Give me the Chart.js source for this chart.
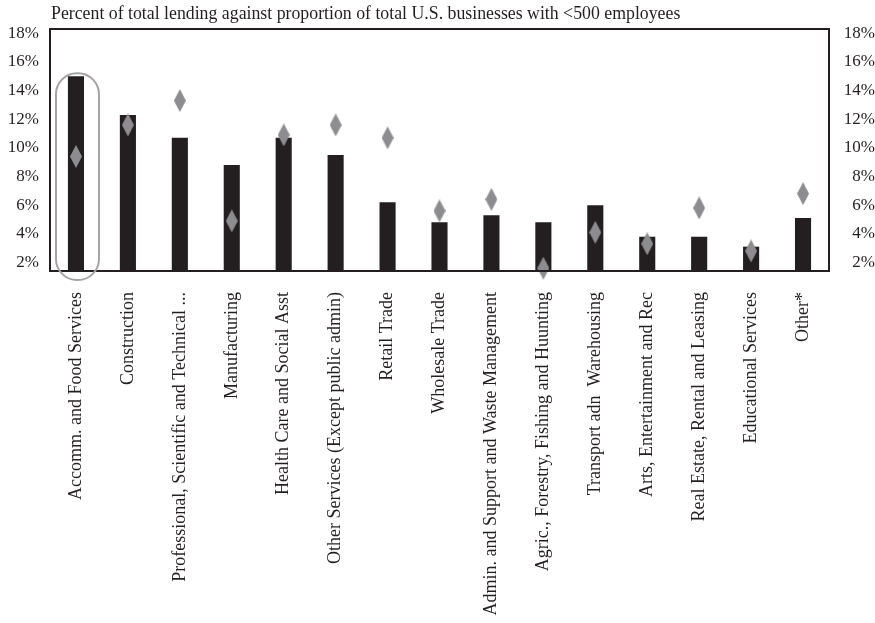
<!DOCTYPE html>
<html>
<head>
<meta charset="utf-8">
<script src="https://cdn.jsdelivr.net/npm/chart.js@4"></script>
<style>
  body { margin: 0; background: #fff; }
</style>
</head>
<body>
<canvas id="grafico" width="875" height="623"></canvas>
<script>
const categorias = [
  "Accomm. and Food Services",
  "Construction",
  "Professional, Scientific and Technical ...",
  "Manufacturing",
  "Health Care and Social Asst",
  "Other Services (Except public admin)",
  "Retail Trade",
  "Wholesale Trade",
  "Admin. and Support and Waste Management",
  "Agric., Forestry, Fishing and Huunting",
  "Transport adn  Warehousing",
  "Arts, Entertainment and Rec",
  "Real Estate, Rental and Leasing",
  "Educational Services",
  "Other*"
]
// % of total lending (bars)
const emprestimos = [15.0, 12.3, 10.7, 8.8, 10.7, 9.5, 6.2, 4.8, 5.3, 4.8, 6.0, 3.8, 3.8, 3.1, 5.1]
// % of total U.S. businesses with <500 employees (diamonds)
const empresas = [9.4, 11.6, 13.3, 4.9, 10.9, 11.6, 10.7, 5.6, 6.4, 1.6, 4.1, 3.3, 5.8, 2.8, 6.8]
const marcasY = [2, 4, 6, 8, 10, 12, 14, 16, 18]
const titulo = "Percent of total lending against proportion of total U.S. businesses with <500 employees"

const corTexto = '#231f20'
const fonte = 'Liberation Serif'

// tall narrow diamond for the points
const losango = document.createElement('canvas')
losango.width = 12
losango.height = 23
const lc = losango.getContext('2d')
lc.fillStyle = '#8d8d8f'
lc.beginPath()
lc.moveTo(6, 0)
lc.lineTo(12, 11.5)
lc.lineTo(6, 23)
lc.lineTo(0, 11.5)
lc.closePath()
lc.fill()

const moldura = {
  id: 'moldura',
  afterDatasetsDraw(chart) {
    const { ctx, chartArea: a, scales } = chart
    ctx.save()
    // plot box
    ctx.strokeStyle = corTexto
    ctx.lineWidth = 2
    ctx.strokeRect(a.left, a.top, a.right - a.left, a.bottom - a.top)
    // highlight around first category
    const xc = scales.x.getPixelForValue(0) + 1.5
    const yt = scales.y.getPixelForValue(emprestimos[0]) - 3
    ctx.strokeStyle = '#a3a3a5'
    ctx.lineWidth = 2
    ctx.beginPath()
    ctx.roundRect(xc - 21.5, yt, 43, a.bottom + 9 - yt, 21)
    ctx.stroke()
    ctx.restore()
  },
  afterDraw(chart) {
    const { ctx, chartArea: a } = chart
    ctx.save()
    ctx.fillStyle = corTexto
    ctx.font = `17.8px "${fonte}"`
    ctx.textBaseline = 'alphabetic'
    ctx.fillText(titulo, a.left + 1, 19)
    ctx.restore()
  }
}

const eixoY = (posicao, largura) => ({
  position: posicao,
  min: 1.4,
  max: 18.3,
  afterBuildTicks: s => { s.ticks = marcasY.map(v => ({ value: v })) },
  afterFit: s => { s.width = largura },
  grid: { display: false, drawTicks: false },
  border: { display: false },
  ticks: {
    color: corTexto,
    font: { family: fonte, size: 17 },
    padding: posicao === 'left' ? 11 : 7,
    crossAlign: posicao === 'left' ? 'near' : 'far',
    callback: v => v + '%'
  }
})

new Chart(document.getElementById('grafico'), {
  data: {
    labels: categorias,
    datasets: [
      {
        type: 'line',
        label: 'Businesses',
        data: empresas,
        yAxisID: 'y',
        showLine: false,
        pointStyle: losango,
        pointRadius: 6,
        clip: false,
        order: 1
      },
      {
        type: 'bar',
        label: 'Lending',
        data: emprestimos,
        yAxisID: 'y',
        backgroundColor: '#231f20',
        barPercentage: 0.31,
        categoryPercentage: 1,
        order: 2
      }
    ]
  },
  options: {
    responsive: false,
    animation: false,
    layout: { padding: { top: 29, left: 0, right: 0, bottom: 0 } },
    plugins: {
      legend: { display: false },
      tooltip: { enabled: false }
    },
    scales: {
      x: {
        grid: { display: false, drawTicks: false },
        border: { display: false },
        afterFit: s => { s.height = 352 },
        ticks: {
          color: corTexto,
          font: { family: fonte, size: 18 },
          minRotation: 90,
          maxRotation: 90,
          autoSkip: false,
          padding: 21
        }
      },
      y: eixoY('left', 50),
      y2: eixoY('right', 46)
    }
  },
  plugins: [moldura]
})
</script>
</body>
</html>
